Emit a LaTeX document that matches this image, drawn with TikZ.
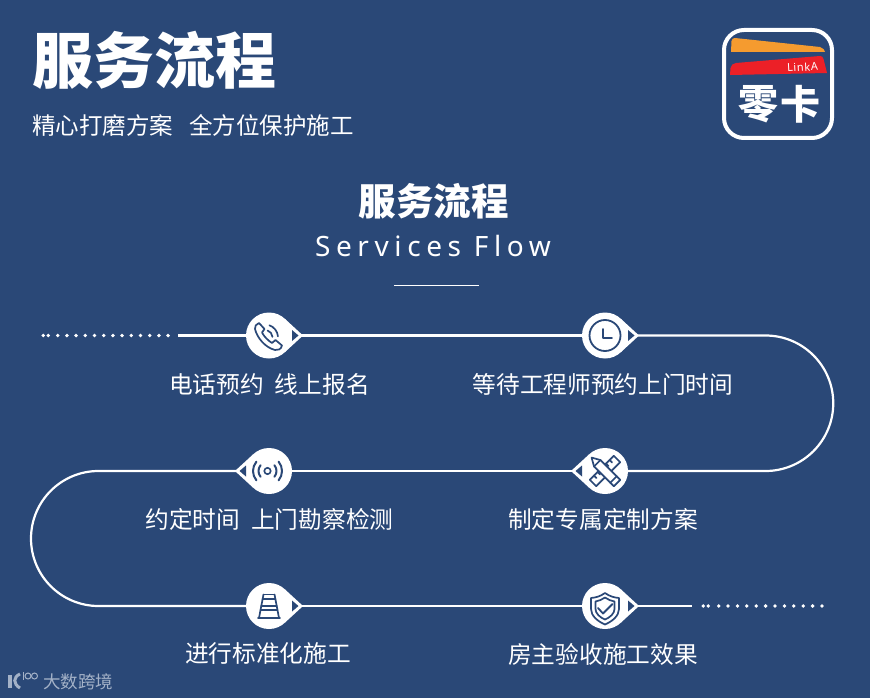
\documentclass[tikz,border=0pt]{standalone}
\usepackage{fontspec}
\setmainfont{Noto Sans CJK SC}
\newfontfamily\latinfont{Noto Sans}
\usepackage{xcolor}
\usetikzlibrary{arrows.meta,calc,positioning}
\definecolor{bgblue}{HTML}{2A4877}
\definecolor{logoorange}{HTML}{F59B2F}
\definecolor{logored}{HTML}{EC2027}
\definecolor{markgray}{HTML}{A3B1C7}
\tikzset{
  flowline/.style={white,line width=2.2pt},
  stepnode/.style={circle,fill=white,minimum size=46pt,inner sep=0pt},
  steplabel/.style={white,inner sep=0pt,font=\fontsize{23.7}{28}\selectfont},
  iconline/.style={bgblue,line width=1.7pt,line join=round,line cap=round}
}
\begin{document}
\begin{tikzpicture}[x=1pt,y=-1pt]
\useasboundingbox (0,0) rectangle (870,698);
\fill[bgblue] (0,0) rectangle (870,698);
% --- intestazione ---
\node[white,inner sep=0pt,font=\fontsize{61}{67}\bfseries\selectfont] (maintitle) at (154,60) {服务流程};
\node[white,inner sep=0pt,font=\fontsize{23.5}{28}\selectfont] (subtitle) at (193,125) {精心打磨方案\hspace{16pt}全方位保护施工};
\node[white,inner sep=0pt,font=\fontsize{37.5}{44}\bfseries\selectfont] (flowtitle) at (433.5,201) {服务流程};
\node[white,inner sep=0pt,font=\fontsize{28}{33}\latinfont\addfontfeature{LetterSpace=20}] (flowsub) at (433,246) {Services Flow};
\coordinate (rulea) at (394,285);
\coordinate (ruleb) at (479,285);
\draw[white,line width=1pt] (rulea) -- (ruleb);
% --- logo ---
\node[draw=white,line width=4pt,rounded corners=20pt,minimum size=108pt] (logobox) at (778,84) {};
\fill[logoorange] (731,52) -- (731.5,41) .. controls (732,39) and (733,38) .. (735,38) -- (820,47) .. controls (823,48) and (825,50) .. (825,52) -- cycle;
\fill[logored] (730,75) -- (730.5,68) .. controls (731,65) and (733,63.5) .. (736,63) -- (820,56) .. controls (822,56) and (823,57) .. (823.5,59) -- (827,73) -- cycle;
\node[white,inner sep=0pt,rotate=3,font=\fontsize{11}{12}\latinfont\addfontfeature{LetterSpace=6}] (logotext) at (802.5,67) {LinkA};
\node[white,inner sep=0pt,font=\fontsize{40}{46}\bfseries\selectfont] (logoa) at (758,104) {零};
\node[white,inner sep=0pt,font=\fontsize{40}{46}\bfseries\selectfont] (logob) at (800,104) {卡};
% --- percorso ---
\node[stepnode] (stepa) at (269,335.5) {};
\node[stepnode] (stepb) at (605,335.5) {};
\node[stepnode] (stepc) at (605,471) {};
\node[stepnode] (stepd) at (269,471) {};
\node[stepnode] (stepe) at (269,606) {};
\node[stepnode] (stepf) at (605,606) {};
\coordinate (linestart) at (178,335.5);
\coordinate (turnr) at (765.5,335.5);
\coordinate (turnl) at (98.5,471);
\coordinate (lineend) at (692,606);
\draw[flowline] (linestart) -- (stepa);
\draw[flowline] (stepa) -- (stepb);
\draw[flowline] (stepb) -- (turnr) arc[start angle=-90,end angle=90,radius=67.75] -- (stepc);
\draw[flowline] (stepc) -- (stepd);
\draw[flowline] (stepd) -- (turnl) arc[start angle=-90,end angle=-270,radius=67.5] -- (stepe);
\draw[flowline] (stepe) -- (stepf);
\draw[flowline] (stepf) -- (lineend);
\foreach \stepname/\dir in {stepa/1,stepb/1,stepc/-1,stepd/-1,stepe/1,stepf/1} {
  \begin{scope}[shift={(\stepname)},xscale=\dir]
    \fill[white] (15.6,-16.9) -- (34,0) -- (15.6,16.9) -- cycle;
    \fill[bgblue] (23,-5.5) -- (29.5,0) -- (23,5.5) -- cycle;
  \end{scope}
}
% puntini
\foreach \px in {43.3,48.3,57.7,66.9,76.1,85.3,94.5,103.7,112.9,122.1,131.3,140.5,149.7,158.9,168.1}
  \fill[white] (\px,335.5) circle[radius=1.9];
\foreach \px in {703.3,708.3,718.7,728,737.4,746.8,756.2,765.6,775,784.4,793.8,803.2,812.6,822}
  \fill[white] (\px,606) circle[radius=1.9];
% --- icone ---
\begin{scope}[shift={(stepa)}]
  \draw[iconline] (-10,-12.5) -- (-4.5,-6.5) -- (-7,-3) .. controls (-5,1) and (-1,5) .. (3,7.5) -- (6.5,4.5) -- (13,10) .. controls (12,14) and (9,15) .. (6,14.5) .. controls (-4,12) and (-12,2) .. (-14,-6.5) .. controls (-14.5,-9) and (-13,-11.5) .. cycle;
  \draw[iconline] (-4,2) ++(-70:13) arc[start angle=-70,end angle=-5,radius=13];
  \draw[iconline] (-4,2) ++(-70:7.5) arc[start angle=-70,end angle=-5,radius=7.5];
\end{scope}
\begin{scope}[shift={(stepb)}]
  \draw[bgblue,line width=1.8pt] (0,0) circle[radius=15.5];
  \draw[iconline,line width=1.8pt] (-2,-6.5) -- (-2,2.5) -- (7,2.5);
\end{scope}
\begin{scope}[shift={(stepc)},rotate=45]
  \draw[iconline,fill=white] (-17,-4.5) rectangle (17,4.5);
  \foreach \tx in {-11,-6,6,11} \draw[iconline] (\tx,-4.5) -- (\tx,-1);
\end{scope}
\begin{scope}[shift={(stepc)},rotate=135]
  \draw[iconline,fill=white] (-17,-4.5) -- (11,-4.5) -- (19,0) -- (11,4.5) -- (-17,4.5) -- cycle;
  \draw[iconline] (-12,-4.5) -- (-12,4.5);
  \draw[iconline] (11,-4.5) -- (11,4.5);
\end{scope}
\begin{scope}[shift={(stepd)}]
  \draw[bgblue,line width=1.6pt] (-1.5,0) circle[radius=3.2];
  \draw[iconline,line width=2pt] (-1.5,0) ++(140:9) arc[start angle=140,end angle=220,radius=9];
  \draw[iconline,line width=2pt] (-1.5,0) ++(-40:9) arc[start angle=-40,end angle=40,radius=9];
  \draw[iconline,line width=2pt] (-1.5,0) ++(140:14.5) arc[start angle=140,end angle=220,radius=14.5];
  \draw[iconline,line width=2pt] (-1.5,0) ++(-40:14.5) arc[start angle=-40,end angle=40,radius=14.5];
\end{scope}
\begin{scope}[shift={(stepe)}]
  \draw[iconline] (-5.5,-11.5) -- (5.5,-11.5);
  \draw[iconline] (-5.5,-11.5) -- (-10,12);
  \draw[iconline] (5.5,-11.5) -- (10,12);
  \draw[iconline] (-6.5,-7) -- (6.5,-7);
  \draw[iconline] (-7.8,0) -- (7.8,0);
  \draw[iconline] (-8.5,4) -- (8.5,4);
  \draw[iconline] (-11,12.3) -- (11,12.3);
\end{scope}
\begin{scope}[shift={(stepf)}]
  \draw[iconline] (0,-13) .. controls (5,-9.5) and (9,-8.5) .. (14,-8) -- (14,3) .. controls (14,10) and (7,15.5) .. (0,18.5) .. controls (-7,15.5) and (-14,10) .. (-14,3) -- (-14,-8) .. controls (-9,-8.5) and (-5,-9.5) .. cycle;
  \draw[iconline] (0,-8.5) .. controls (3,-6.5) and (6,-5) .. (9.5,-4.5) -- (9.5,3) .. controls (9.5,7.5) and (5,11.5) .. (0,13.5) .. controls (-5,11.5) and (-9.5,7.5) .. (-9.5,3) -- (-9.5,-4.5) .. controls (-6,-5) and (-3,-6.5) .. cycle;
  \draw[iconline,line width=1.8pt] (-7,2) -- (-2,7.5) -- (7.5,-2);
\end{scope}
% --- etichette ---
\node[steplabel] (labela) at (269.5,384) {电话预约\hspace{11pt}线上报名};
\node[steplabel] (labelb) at (603,384) {等待工程师预约上门时间};
\node[steplabel] (labelc) at (603,519) {制定专属定制方案};
\node[steplabel] (labeld) at (269.5,519) {约定时间\hspace{11pt}上门勘察检测};
\node[steplabel] (labele) at (268,654) {进行标准化施工};
\node[steplabel] (labelf) at (603,654) {房主验收施工效果};
% --- marchio ---
\draw[markgray,line width=3.5pt] (10,675) -- (10,688);
\draw[markgray,line width=3pt] (20,674) .. controls (13,677) and (13,684) .. (20,688);
\draw[markgray,line width=1pt] (23,672) -- (23,680);
\draw[markgray,line width=1pt] (28,676) circle[radius=3];
\draw[markgray,line width=1pt] (34.5,676) circle[radius=3];
\node[markgray,inner sep=0pt,font=\fontsize{17.5}{20}\selectfont] (marktext) at (78,682) {大数跨境};
\end{tikzpicture}
\end{document}
